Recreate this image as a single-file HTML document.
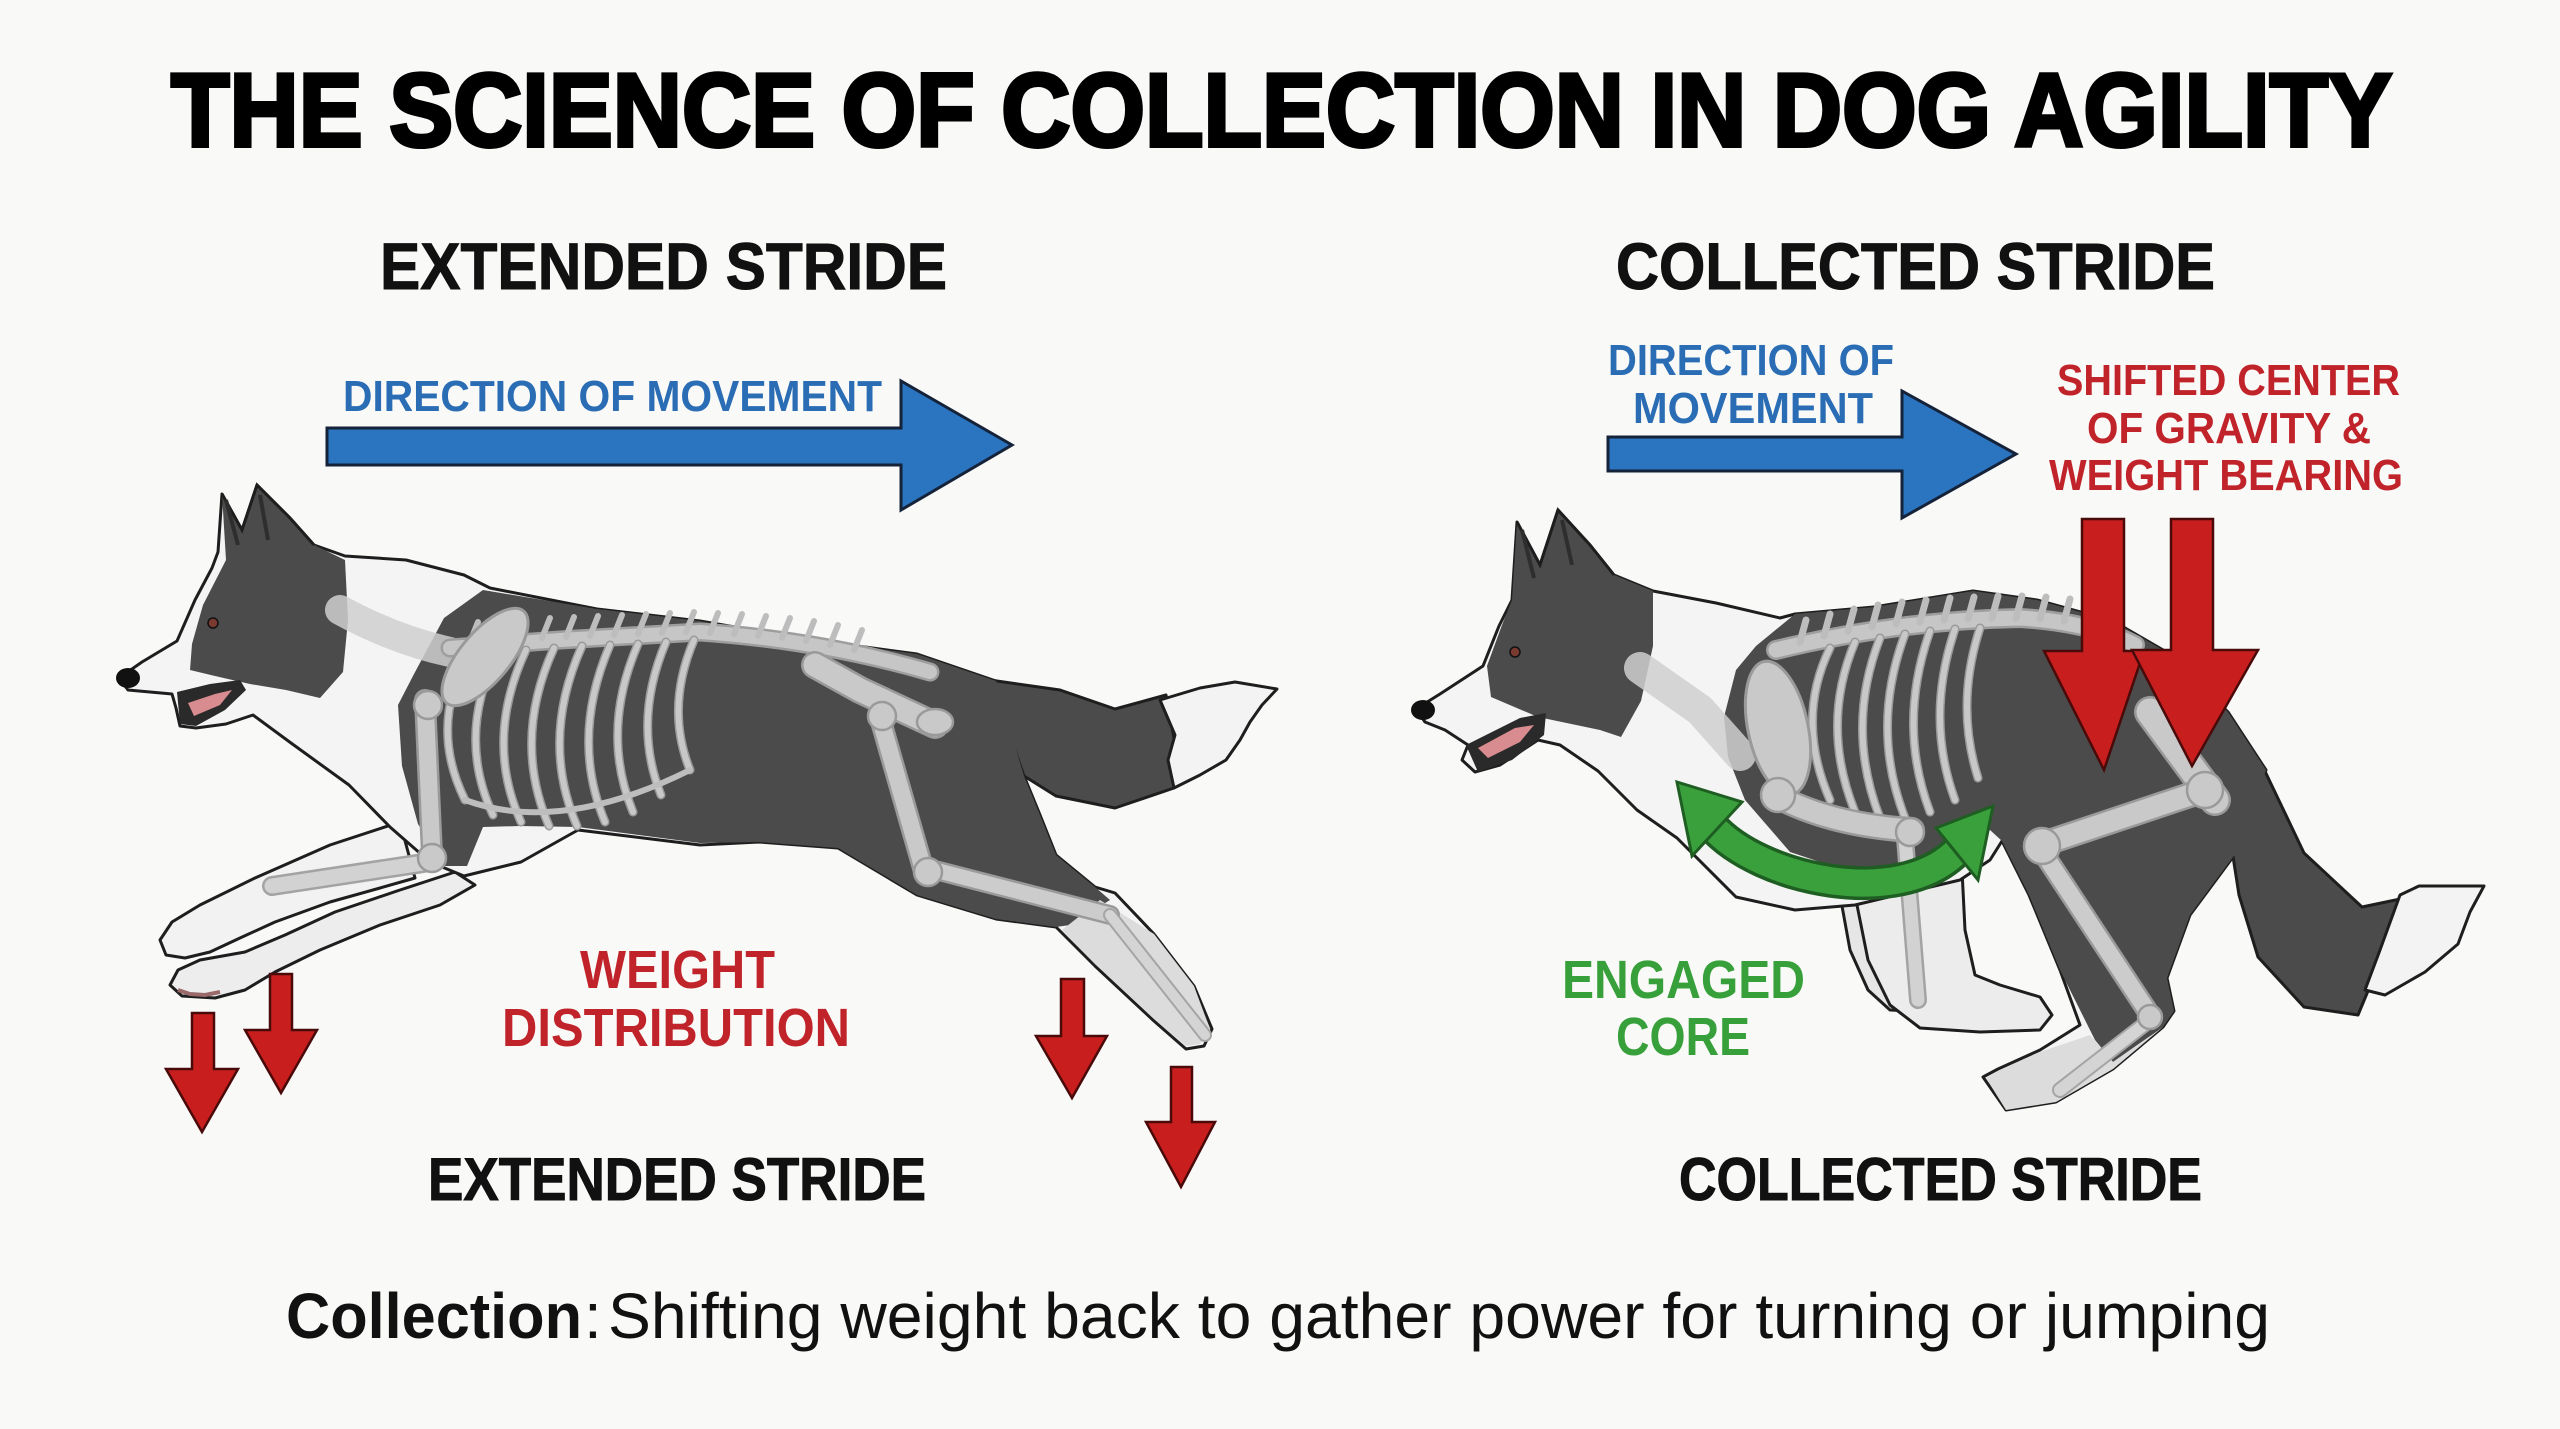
<!DOCTYPE html>
<html><head><meta charset="utf-8"><style>
html,body{margin:0;padding:0;background:#f9f9f7;}
svg{display:block;}
text{font-family:"Liberation Sans",Arial,sans-serif;}
</style></head><body>
<svg width="2560" height="1429" viewBox="0 0 2560 1429" xmlns="http://www.w3.org/2000/svg">
<rect width="2560" height="1429" fill="#f9f9f7"/>

<!-- TEXT -->
<text x="171" y="146" font-size="104" font-weight="bold" fill="#000" stroke="#000" stroke-width="4" textLength="2221" lengthAdjust="spacingAndGlyphs">THE SCIENCE OF COLLECTION IN DOG AGILITY</text>
<text x="380" y="289" font-size="66" font-weight="bold" fill="#111" stroke="#111" stroke-width="1" textLength="567" lengthAdjust="spacingAndGlyphs">EXTENDED STRIDE</text>
<text x="1616" y="289" font-size="66" font-weight="bold" fill="#111" stroke="#111" stroke-width="1" textLength="599" lengthAdjust="spacingAndGlyphs">COLLECTED STRIDE</text>

<text x="343" y="411" font-size="44" font-weight="bold" fill="#2a6db5" textLength="539" lengthAdjust="spacingAndGlyphs">DIRECTION OF MOVEMENT</text>
<text x="1608" y="375" font-size="44" font-weight="bold" fill="#2a6db5" textLength="286" lengthAdjust="spacingAndGlyphs">DIRECTION OF</text>
<text x="1633" y="423" font-size="44" font-weight="bold" fill="#2a6db5" textLength="240" lengthAdjust="spacingAndGlyphs">MOVEMENT</text>

<text x="2057" y="395" font-size="44" font-weight="bold" fill="#c0232a" textLength="343" lengthAdjust="spacingAndGlyphs">SHIFTED CENTER</text>
<text x="2087" y="443" font-size="44" font-weight="bold" fill="#c0232a" textLength="284" lengthAdjust="spacingAndGlyphs">OF GRAVITY &amp;</text>
<text x="2049" y="490" font-size="44" font-weight="bold" fill="#c0232a" textLength="354" lengthAdjust="spacingAndGlyphs">WEIGHT BEARING</text>

<!-- BLUE ARROWS -->
<polygon points="327,428 901,428 901,381 1012,445 901,510 901,465 327,465" fill="#2b74bf" stroke="#15233a" stroke-width="3" stroke-linejoin="miter"/>
<polygon points="1608,437 1902,437 1902,391 2016,454 1902,518 1902,471 1608,471" fill="#2b74bf" stroke="#15233a" stroke-width="3" stroke-linejoin="miter"/>

<!-- ================= LEFT DOG ================= -->
<g stroke="#1e1e1e" stroke-width="3" stroke-linejoin="round">
  <!-- front legs -->
  <path d="M400,822 L330,845 L255,878 L200,905 L172,922 L160,940 L166,955 L185,958 L210,952 L240,938 L275,922 L330,902 L380,888 L415,878 Z" fill="#f2f2f2"/>
  <path d="M455,872 L400,890 L335,912 L285,935 L245,952 L200,960 L178,970 L170,985 L182,996 L215,998 L245,990 L275,972 L320,950 L380,925 L440,905 L475,885 Z" fill="#ededed"/>
  <!-- base silhouette -->
  <path d="M119,678 L142,662 L177,641 L195,600 L212,568 L218,552 L222,494 L242,530 L257,485 L290,518 L314,545 L345,556 L406,560 L464,575 L490,588 L597,609 L700,621 L799,638 L917,654 L996,681 L1024,776 L1040,815 L1056,855 L1095,887 L1115,893 L1154,934 L1194,986 L1212,1029 L1204,1046 L1186,1049 L1154,1021 L1095,966 L1056,927 L996,919 L917,895 L838,848 L759,842 L700,845 L578,830 L521,862 L464,876 L430,862 L390,827 L349,785 L291,743 L253,715 L226,724 L196,728 L180,726 L176,708 L172,694 L150,692 L128,690 Z" fill="#f4f4f4"/>
  <!-- tail -->
  <path d="M990,680 L1060,690 L1115,709 L1166,695 L1178,760 L1174,788 L1115,808 L1056,796 L1024,776 Z" fill="#4b4b4b"/>
  <path d="M1160,700 L1200,688 L1235,682 L1277,689 L1262,705 L1250,722 L1240,740 L1226,760 L1200,775 L1174,788 L1168,760 L1175,735 Z" fill="#f3f3f3"/>
</g>
<!-- paw pads -->
<path d="M178,990 L190,994 L205,995 L220,992" stroke="#9a6a6a" stroke-width="4" fill="none"/>
<!-- dark body -->
<path d="M483,590 L597,609 L700,621 L799,638 L917,654 L996,681 L1024,776 L1040,815 L1056,855 L1095,887 L1110,900 L1070,925 L1056,927 L996,919 L917,895 L838,848 L759,842 L700,843 L578,827 L520,826 L483,827 L467,866 L444,866 L418,824 L402,766 L398,705 L414,674 L444,618 Z" fill="#4b4b4b"/>
<!-- lower hind leg shading -->
<path d="M1100,900 L1154,934 L1194,986 L1210,1029 L1200,1044 L1186,1046 L1154,1019 L1095,964 L1062,930 Z" fill="#dcdcdc"/>
<!-- head dark -->
<path d="M190,670 L192,644 L203,605 L226,560 L222,494 L242,530 L257,485 L290,518 L314,545 L345,560 L348,620 L343,672 L320,698 L286,690 L250,684 L215,676 Z" fill="#4b4b4b"/>
<path d="M222,494 L242,530 L257,485 L290,518 L314,545" fill="none" stroke="#1e1e1e" stroke-width="3"/>
<path d="M226,500 L238,545 M260,495 L268,540" stroke="#2e2e2e" stroke-width="4" fill="none"/>
<!-- mouth -->
<path d="M177,692 L210,684 L240,680 L246,690 L225,710 L196,726 L180,724 Z" fill="#2a2a2a"/>
<path d="M188,703 L215,694 L232,690 L220,705 L194,716 Z" fill="#d98c90"/>
<ellipse cx="128" cy="678" rx="12" ry="10" fill="#111"/>
<circle cx="213" cy="623" r="5" fill="#7a3a30" stroke="#111" stroke-width="1.5"/>

<!-- left bones -->
<g fill="none" stroke-linecap="round" stroke-linejoin="round">
  <path d="M340,610 Q395,640 450,652" stroke="#cfcfcf" stroke-width="30" opacity="0.85"/>
  <path d="M450,648 L560,640 L700,632 Q820,640 930,672" stroke="#9e9e9e" stroke-width="19"/>
  <path d="M450,648 L560,640 L700,632 Q820,640 930,672" stroke="#c6c6c6" stroke-width="14"/>
  <g stroke="#bdbdbd" stroke-width="6">
    <path d="M470,642 L478,622 M494,640 L502,620 M518,639 L526,619 M542,638 L550,618 M566,637 L574,617 M590,636 L598,616 M614,635 L622,615 M638,634 L646,614 M662,633 L670,613 M686,632 L694,612 M710,633 L718,613 M734,634 L742,614 M758,636 L766,616 M782,638 L790,618 M806,641 L814,621 M830,645 L838,625 M854,650 L862,630"/>
  </g>
  <g stroke="#9a9a9a" stroke-width="9">
    <path d="M470,652 Q428,725 465,800"/><path d="M498,652 Q456,735 493,815"/><path d="M526,650 Q484,740 521,822"/>
    <path d="M554,648 Q512,740 549,826"/><path d="M582,646 Q540,740 577,826"/><path d="M610,645 Q570,738 605,822"/>
    <path d="M638,644 Q600,732 633,812"/><path d="M666,642 Q632,722 661,795"/><path d="M694,640 Q665,708 690,770"/>
  </g>
  <g stroke="#c8c8c8" stroke-width="6">
    <path d="M470,652 Q428,725 465,800"/><path d="M498,652 Q456,735 493,815"/><path d="M526,650 Q484,740 521,822"/>
    <path d="M554,648 Q512,740 549,826"/><path d="M582,646 Q540,740 577,826"/><path d="M610,645 Q570,738 605,822"/>
    <path d="M638,644 Q600,732 633,812"/><path d="M666,642 Q632,722 661,795"/><path d="M694,640 Q665,708 690,770"/>
  </g>
  <path d="M465,800 Q560,835 690,770" stroke="#bdbdbd" stroke-width="6"/>
  <!-- limbs -->
  <path d="M425,700 L432,855" stroke="#9a9a9a" stroke-width="22"/>
  <path d="M425,700 L432,855" stroke="#c9c9c9" stroke-width="17"/>
  <path d="M430,862 L272,886" stroke="#a3a3a3" stroke-width="20"/>
  <path d="M430,862 L272,886" stroke="#d2d2d2" stroke-width="15"/>
  <path d="M815,665 L860,690 L935,725" stroke="#9a9a9a" stroke-width="28"/>
  <path d="M815,665 L860,690 L935,725" stroke="#c9c9c9" stroke-width="23"/>
  <path d="M880,718 L925,875" stroke="#9a9a9a" stroke-width="22"/>
  <path d="M880,718 L925,875" stroke="#c9c9c9" stroke-width="17"/>
  <path d="M935,870 L1110,915" stroke="#9a9a9a" stroke-width="20"/>
  <path d="M935,870 L1110,915" stroke="#cccccc" stroke-width="15"/>
  <path d="M1110,915 L1205,1035" stroke="#a5a5a5" stroke-width="14"/>
  <path d="M1110,915 L1205,1035" stroke="#d4d4d4" stroke-width="10"/>
</g>
<ellipse cx="485" cy="657" rx="60" ry="25" transform="rotate(-50 485 657)" fill="#c9c9c9" stroke="#9a9a9a" stroke-width="3"/>
<circle cx="428" cy="705" r="14" fill="#c9c9c9" stroke="#9a9a9a" stroke-width="2.5"/>
<circle cx="432" cy="858" r="14" fill="#c9c9c9" stroke="#9a9a9a" stroke-width="2.5"/>
<circle cx="882" cy="716" r="14" fill="#c9c9c9" stroke="#9a9a9a" stroke-width="2.5"/>
<circle cx="928" cy="872" r="14" fill="#c9c9c9" stroke="#9a9a9a" stroke-width="2.5"/>
<ellipse cx="935" cy="722" rx="18" ry="13" fill="#c9c9c9" stroke="#9a9a9a" stroke-width="2.5"/>

<!-- ================= RIGHT DOG ================= -->
<g stroke="#1e1e1e" stroke-width="3" stroke-linejoin="round">
  <path d="M1840,895 L1850,950 L1868,990 L1890,1010 L1930,1012 L1950,1000 L1935,985 L1910,975 L1895,940 L1890,890 Z" fill="#e6e6e6"/>
  <path d="M1855,895 L1868,960 L1890,1005 L1920,1028 L1980,1032 L2040,1030 L2052,1015 L2040,997 L2000,985 L1975,975 L1965,930 L1962,870 Z" fill="#ececec"/>
  <path d="M1416,709 L1440,694 L1483,666 L1499,626 L1512,600 L1517,522 L1540,565 L1558,510 L1590,545 L1614,575 L1653,591 L1716,603 L1780,618 L1795,614 L1874,607 L1973,591 L2037,600 L2113,621 L2170,654 L2228,712 L2266,770 L2236,853 L2190,915 L2167,978 L2174,1011 L2163,1027 L2113,1069 L2056,1102 L2006,1110 L1983,1077 L1998,1069 L2040,1050 L2080,1025 L2060,970 L2029,895 L2002,841 L1990,860 L1960,880 L1855,905 L1795,910 L1736,897 L1677,838 L1637,810 L1598,771 L1560,745 L1538,740 L1500,765 L1475,772 L1462,760 L1468,745 L1445,730 L1425,722 Z" fill="#f4f4f4"/>
  <path d="M2262,765 L2304,853 L2362,907 L2405,898 L2385,950 L2358,1015 L2304,1007 L2258,957 L2239,895 L2232,850 Z" fill="#4b4b4b"/>
  <path d="M2400,895 L2419,886 L2484,886 L2470,912 L2458,944 L2425,972 L2385,995 L2365,990 L2380,950 Z" fill="#f3f3f3"/>
</g>
<path d="M1795,614 L1874,607 L1973,591 L2037,600 L2113,621 L2170,654 L2228,712 L2266,770 L2236,853 L2190,915 L2167,978 L2174,1011 L2163,1027 L2113,1062 L2095,1040 L2060,970 L2029,895 L2002,841 L1990,830 L1960,860 L1900,878 L1850,872 L1790,852 L1745,800 L1728,757 L1724,717 L1736,670 L1756,646 Z" fill="#4b4b4b"/>
<path d="M2090,1035 L2113,1062 L2163,1027 L2113,1069 L2056,1102 L2006,1110 L1986,1078 L2000,1070 L2040,1052 Z" fill="#dcdcdc"/>
<path d="M1487,666 L1491,697 L1538,717 L1600,730 L1621,737 L1641,701 L1653,646 L1653,591 L1614,575 L1590,545 L1558,510 L1540,565 L1517,522 L1512,600 L1502,625 Z" fill="#4b4b4b"/>
<path d="M1517,522 L1540,565 L1558,510 L1590,545 L1614,575" fill="none" stroke="#1e1e1e" stroke-width="3"/>
<path d="M1522,530 L1534,578 M1562,520 L1572,565" stroke="#2e2e2e" stroke-width="4" fill="none"/>
<path d="M1466,745 L1520,718 L1546,713 L1544,735 L1512,760 L1478,772 Z" fill="#2a2a2a"/>
<path d="M1478,748 L1515,728 L1534,725 L1520,742 L1488,758 Z" fill="#d98c90"/>
<ellipse cx="1423" cy="710" rx="12" ry="10" fill="#111"/>
<circle cx="1515" cy="652" r="5" fill="#7a3a30" stroke="#111" stroke-width="1.5"/>

<g fill="none" stroke-linecap="round" stroke-linejoin="round">
  <path d="M1640,668 L1700,710 L1740,755" stroke="#cfcfcf" stroke-width="32" opacity="0.85"/>
  <path d="M1776,650 Q1900,620 2020,618 Q2090,622 2135,645" stroke="#9e9e9e" stroke-width="20"/>
  <path d="M1776,650 Q1900,620 2020,618 Q2090,622 2135,645" stroke="#c6c6c6" stroke-width="15"/>
  <g stroke="#bdbdbd" stroke-width="7">
    <path d="M1800,642 L1806,620 M1824,636 L1830,614 M1848,631 L1854,609 M1872,627 L1878,605 M1896,624 L1902,602 M1920,622 L1926,600 M1944,620 L1950,598 M1968,619 L1974,597 M1992,618 L1998,596 M2016,618 L2022,596 M2040,619 L2046,597 M2064,621 L2070,599 M2088,625 L2094,603 M2112,632 L2118,610"/>
  </g>
  <g stroke="#9a9a9a" stroke-width="9">
    <path d="M1830,648 Q1795,720 1830,800"/><path d="M1855,642 Q1820,725 1855,812"/><path d="M1880,638 Q1845,728 1880,818"/>
    <path d="M1905,634 Q1870,728 1905,818"/><path d="M1930,631 Q1897,725 1930,812"/><path d="M1955,629 Q1925,718 1955,800"/>
    <path d="M1980,628 Q1955,705 1978,778"/>
  </g>
  <g stroke="#c8c8c8" stroke-width="6">
    <path d="M1830,648 Q1795,720 1830,800"/><path d="M1855,642 Q1820,725 1855,812"/><path d="M1880,638 Q1845,728 1880,818"/>
    <path d="M1905,634 Q1870,728 1905,818"/><path d="M1930,631 Q1897,725 1930,812"/><path d="M1955,629 Q1925,718 1955,800"/>
    <path d="M1980,628 Q1955,705 1978,778"/>
  </g>
  <path d="M1775,795 Q1830,825 1912,830" stroke="#9a9a9a" stroke-width="26"/>
  <path d="M1775,795 Q1830,825 1912,830" stroke="#c9c9c9" stroke-width="21"/>
  <path d="M1905,838 L1918,1000" stroke="#a3a3a3" stroke-width="18"/>
  <path d="M1905,838 L1918,1000" stroke="#d2d2d2" stroke-width="13"/>
  <path d="M2150,712 L2215,800" stroke="#9a9a9a" stroke-width="32"/>
  <path d="M2150,712 L2215,800" stroke="#c9c9c9" stroke-width="27"/>
  <path d="M2205,790 L2040,845" stroke="#9a9a9a" stroke-width="26"/>
  <path d="M2205,790 L2040,845" stroke="#c9c9c9" stroke-width="21"/>
  <path d="M2040,848 L2150,1015" stroke="#9a9a9a" stroke-width="22"/>
  <path d="M2040,848 L2150,1015" stroke="#cccccc" stroke-width="17"/>
  <path d="M2150,1020 L2060,1090" stroke="#a5a5a5" stroke-width="16"/>
  <path d="M2150,1020 L2060,1090" stroke="#d4d4d4" stroke-width="12"/>
</g>
<ellipse cx="1778" cy="728" rx="68" ry="30" transform="rotate(78 1778 728)" fill="#c9c9c9" stroke="#9a9a9a" stroke-width="3"/>
<circle cx="1778" cy="795" r="17" fill="#c9c9c9" stroke="#9a9a9a" stroke-width="2.5"/>
<circle cx="1910" cy="832" r="14" fill="#c9c9c9" stroke="#9a9a9a" stroke-width="2.5"/>
<circle cx="2042" cy="846" r="18" fill="#c9c9c9" stroke="#9a9a9a" stroke-width="2.5"/>
<circle cx="2205" cy="790" r="18" fill="#c9c9c9" stroke="#9a9a9a" stroke-width="2.5"/>
<circle cx="2150" cy="1017" r="12" fill="#c9c9c9" stroke="#9a9a9a" stroke-width="2.5"/>

<!-- GREEN CURVED ARROW -->
<path d="M1712,826 C1760,880 1900,910 1958,850" fill="none" stroke="#1f5e22" stroke-width="34"/>
<path d="M1712,826 C1760,880 1900,910 1958,850" fill="none" stroke="#3aa03c" stroke-width="27"/>
<polygon points="1677,782 1742,802 1692,856" fill="#3aa03c" stroke="#1f5e22" stroke-width="3" stroke-linejoin="miter"/>
<polygon points="1993,806 1936,828 1978,880" fill="#3aa03c" stroke="#1f5e22" stroke-width="3" stroke-linejoin="miter"/>

<!-- RED ARROWS -->
<g fill="#c81e1e" stroke="#4a0a0a" stroke-width="2.5" stroke-linejoin="miter">
  <polygon points="192,1013 214,1013 214,1069 238,1069 202,1132 166,1069 192,1069"/>
  <polygon points="270,974 292,974 292,1030 317,1030 281,1093 245,1030 270,1030"/>
  <polygon points="1061,979 1084,979 1084,1036 1107,1036 1072,1098 1036,1036 1061,1036"/>
  <polygon points="1171,1067 1192,1067 1192,1122 1215,1122 1181,1187 1146,1122 1171,1122"/>
  <polygon points="2082,519 2124,519 2124,651 2144,651 2104,770 2044,651 2082,651"/>
  <polygon points="2171,519 2213,519 2213,650 2258,650 2192,766 2132,650 2171,650"/>
</g>

<!-- LOWER LABELS -->
<text x="580" y="988" font-size="54" font-weight="bold" fill="#c0232a" textLength="195" lengthAdjust="spacingAndGlyphs">WEIGHT</text>
<text x="502" y="1046" font-size="54" font-weight="bold" fill="#c0232a" textLength="348" lengthAdjust="spacingAndGlyphs">DISTRIBUTION</text>
<text x="1562" y="998" font-size="54" font-weight="bold" fill="#37a03a" textLength="243" lengthAdjust="spacingAndGlyphs">ENGAGED</text>
<text x="1616" y="1055" font-size="54" font-weight="bold" fill="#37a03a" textLength="134" lengthAdjust="spacingAndGlyphs">CORE</text>

<text x="428" y="1200" font-size="60" font-weight="bold" fill="#111" stroke="#111" stroke-width="1" textLength="498" lengthAdjust="spacingAndGlyphs">EXTENDED STRIDE</text>
<text x="1679" y="1200" font-size="60" font-weight="bold" fill="#111" stroke="#111" stroke-width="1" textLength="523" lengthAdjust="spacingAndGlyphs">COLLECTED STRIDE</text>

<text x="286" y="1338" font-size="64" font-weight="bold" fill="#111" textLength="296" lengthAdjust="spacingAndGlyphs">Collection</text>
<text x="584" y="1338" font-size="64" fill="#111">:</text>
<text x="608" y="1338" font-size="64" fill="#111" textLength="1662" lengthAdjust="spacingAndGlyphs">Shifting weight back to gather power for turning or jumping</text>
</svg>
</body></html>
